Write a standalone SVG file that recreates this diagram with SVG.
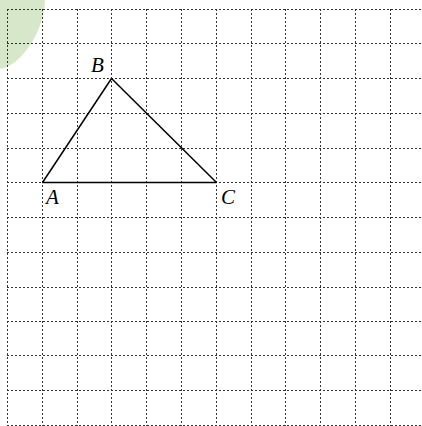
<svg xmlns="http://www.w3.org/2000/svg" width="422" height="426" viewBox="0 0 422 426">
<style>
.grid line{stroke:#333;stroke-width:1;stroke-dasharray:2 2;}
.edge{stroke:#000;stroke-width:1.5;fill:none;stroke-linejoin:miter;}
.lbl{font-family:"Liberation Serif","Times New Roman",serif;font-style:italic;font-size:21px;fill:#000;}
</style>
<rect width="422" height="426" fill="#fff"/>
<ellipse cx="15" cy="23" rx="24" ry="49" transform="rotate(25 15 23)" fill="#d7e7c9"/>
<g class="grid" id="grid">
<line x1="7.5" y1="9" x2="7.5" y2="426"/>
<line x1="42.5" y1="9" x2="42.5" y2="426"/>
<line x1="77.5" y1="9" x2="77.5" y2="426"/>
<line x1="111.5" y1="9" x2="111.5" y2="426"/>
<line x1="146.5" y1="9" x2="146.5" y2="426"/>
<line x1="181.5" y1="9" x2="181.5" y2="426"/>
<line x1="216.5" y1="9" x2="216.5" y2="426"/>
<line x1="251.5" y1="9" x2="251.5" y2="426"/>
<line x1="285.5" y1="9" x2="285.5" y2="426"/>
<line x1="320.5" y1="9" x2="320.5" y2="426"/>
<line x1="355.5" y1="9" x2="355.5" y2="426"/>
<line x1="390.5" y1="9" x2="390.5" y2="426"/>
<line x1="7" y1="9.5" x2="422" y2="9.5"/>
<line x1="7" y1="43.5" x2="422" y2="43.5"/>
<line x1="7" y1="78.5" x2="422" y2="78.5"/>
<line x1="7" y1="113.5" x2="422" y2="113.5"/>
<line x1="7" y1="148.5" x2="422" y2="148.5"/>
<line x1="7" y1="182.5" x2="422" y2="182.5"/>
<line x1="7" y1="217.5" x2="422" y2="217.5"/>
<line x1="7" y1="252.5" x2="422" y2="252.5"/>
<line x1="7" y1="287.5" x2="422" y2="287.5"/>
<line x1="7" y1="321.5" x2="422" y2="321.5"/>
<line x1="7" y1="355.5" x2="422" y2="355.5"/>
<line x1="7" y1="390.5" x2="422" y2="390.5"/>
<line x1="7" y1="425.5" x2="422" y2="425.5"/>
</g>
<g id="connectors">
<line class="edge" x1="42.5" y1="182.5" x2="111.5" y2="78.5"/>
<line class="edge" x1="111.5" y1="78.5" x2="216.5" y2="182.5"/>
<line class="edge" x1="42.5" y1="182.5" x2="216.5" y2="182.5"/>
</g>
<g id="node-A"><text class="lbl" x="46" y="204">A</text></g>
<g id="node-B"><text class="lbl" x="91" y="72">B</text></g>
<g id="node-C"><text class="lbl" x="221" y="204">C</text></g>
</svg>
